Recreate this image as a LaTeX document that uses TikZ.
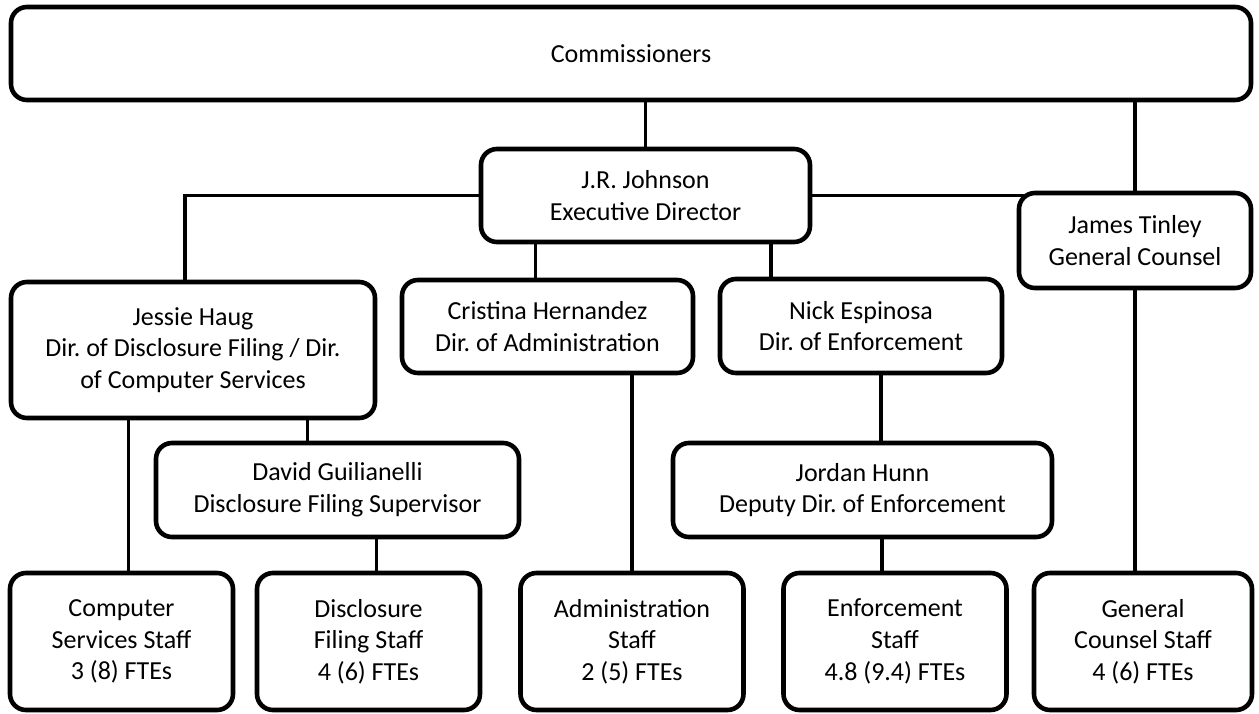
\documentclass[tikz,border=0pt]{standalone}
\usepackage{fontspec}
\setmainfont{Carlito}
\frenchspacing
\usetikzlibrary{backgrounds}
\begin{document}
\begin{tikzpicture}[x=0.5pt,y=-0.5pt,
    box/.style={draw,fill=white,line width=2.3pt,rounded corners=8pt,
      align=center,inner sep=0pt,font=\fontsize{13pt}{15.85pt}\selectfont},
    staff/.style={box,minimum width=111.5pt,minimum height=68.5pt},
    link/.style={draw,line width=1.9pt}]
  \useasboundingbox (0,0) rectangle (1259,713);

  % top levels
  \node (comm) [box,minimum width=620pt,minimum height=46.5pt] at (631,53.5) {Commissioners};
  \node (exec) [box,minimum width=164.5pt,minimum height=46.5pt] at (645.5,195.5)
    {J.R. Johnson\\Executive Director};
  \node (tinley) [box,minimum width=116pt,minimum height=47.5pt] at (1135,240.5)
    {James Tinley\\General Counsel};

  % directors
  \node (jessie) [box,minimum width=182pt,minimum height=68pt] at (193,350)
    {Jessie Haug\\Dir. of Disclosure Filing / Dir.\\of Computer Services};
  \node (cristina) [box,minimum width=145.5pt,minimum height=46.5pt] at (547.5,326.5)
    {Cristina Hernandez\\Dir. of Administration};
  \node (nick) [box,minimum width=141pt,minimum height=47pt] at (861,326)
    {Nick Espinosa\\Dir. of Enforcement};
  \node (david) [box,minimum width=181.5pt,minimum height=47pt] at (337.5,490)
    {David Guilianelli\\Disclosure Filing Supervisor};
  \node (jordan) [box,minimum width=189.5pt,minimum height=47pt] at (862.5,490)
    {Jordan Hunn\\Deputy Dir. of Enforcement};

  % staff
  \node (csstaff) [staff] at (121.5,641.5) {Computer\\Services Staff\\3 (8) FTEs};
  \node (dfstaff) [staff] at (368.5,641.5) {Disclosure\\Filing Staff\\4 (6) FTEs};
  \node (adstaff) [staff] at (632,641.5) {Administration\\Staff\\2 (5) FTEs};
  \node (enstaff) [staff] at (895,641.5) {Enforcement\\Staff\\4.8 (9.4) FTEs};
  \node (gcstaff) [staff,minimum width=109pt] at (1143,641.5) {General\\Counsel Staff\\4 (6) FTEs};

  % connectors behind the boxes
  \begin{scope}[on background layer]
    \draw[link] (exec.center) -- (exec.center |- comm.center);
    \draw[link] (tinley.center) -- (tinley.center |- comm.center);
    \draw[link] ([xshift=-4pt]jessie.center) |- (exec.center -| tinley.center);
    \draw[link] ([xshift=-6pt]cristina.center) -- ([xshift=-6pt]cristina.center |- exec.center);
    \draw[link] ([xshift=-45pt]nick.center) -- ([xshift=-45pt]nick.center |- exec.center);
    \draw[link] ([xshift=3.5pt]csstaff.center) -- ([xshift=3.5pt]csstaff.center |- jessie.center);
    \draw[link] ([xshift=-15pt]david.center) -- ([xshift=-15pt]david.center |- jessie.center);
    \draw[link] ([xshift=4pt]dfstaff.center) -- ([xshift=4pt]dfstaff.center |- david.center);
    \draw[link] (adstaff.center) -- (adstaff.center |- cristina.center);
    \draw[link] ([xshift=10pt]nick.center) -- ([xshift=10pt]nick.center |- jordan.center);
    \draw[link] ([xshift=-6.5pt]enstaff.center) -- ([xshift=-6.5pt]enstaff.center |- jordan.center);
    \draw[link] (gcstaff.center -| tinley.center) -- (tinley.center);
  \end{scope}
\end{tikzpicture}
\end{document}
